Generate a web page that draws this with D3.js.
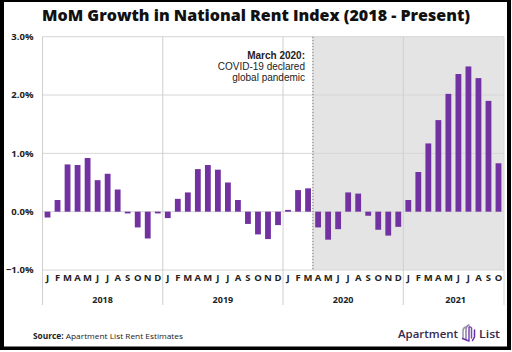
<!DOCTYPE html>
<html><head><meta charset="utf-8">
<script src="https://cdn.jsdelivr.net/npm/d3@7"></script>
<style>html,body{margin:0;padding:0;background:#fff}svg{display:block}</style>
</head><body>
<script>
const years = ["2018","2019","2020","2021"];
const monthLetters = ["J","F","M","A","M","J","J","A","S","O","N","D"];
const values2018 = [-0.10, 0.20, 0.81, 0.80, 0.92, 0.54, 0.65, 0.38, -0.03, -0.27, -0.46, -0.03];
const values2019 = [-0.11, 0.22, 0.33, 0.73, 0.80, 0.72, 0.50, 0.20, -0.21, -0.39, -0.47, -0.23];
const values2020 = [0.03, 0.37, 0.40, -0.27, -0.48, -0.30, 0.33, 0.31, -0.07, -0.31, -0.41, -0.26];
const values2021 = [0.20, 0.68, 1.17, 1.57, 2.02, 2.36, 2.49, 2.29, 1.90, 0.83];
const yTicks = [-1, 0, 1, 2, 3];
const title = "MoM Growth in National Rent Index (2018 - Present)";
const annotation = ["March 2020:", "COVID-19 declared", "global pandemic"];
const pandemicIndex = 27; // first month after March 2020

(function () {
const seriesByYear = [values2018, values2019, values2020, values2021];
const data = [];
seriesByYear.forEach((vals, yi) => vals.forEach((v, mi) => data.push({year: years[yi], m: mi, label: monthLetters[mi], v, i: data.length})));

const W = 512, H = 352;
const svg = d3.select("body").append("svg").attr("width", W).attr("height", H);
const font = "'Open Sans', sans-serif";

const pL = 42.5, pR = 503.5, pT = 36.7, pB = 270;
const x = d3.scaleBand().domain(data.map(d => d.i)).range([pL, pR]).paddingInner(0.42).paddingOuter(0.21);
const y = d3.scaleLinear().domain([-1, 3]).range([pB, pT]);

// shaded region
const xShade = x(pandemicIndex) - x.step() * x.paddingInner() / 2 - 0.2;
svg.append("rect").attr("x", xShade).attr("y", pT).attr("width", pR + 0.5 - xShade).attr("height", pB - pT).attr("fill", "#e4e4e4");

// gridlines
svg.append("g").selectAll("line").data(yTicks).join("line")
  .attr("x1", pL).attr("x2", pR + 0.5)
  .attr("y1", d => y(d)).attr("y2", d => y(d))
  .attr("stroke", "#d6d6d6").attr("stroke-width", 1);

// year separators
const yearStarts = years.map(yr => data.find(d => d.year === yr).i);
const sepX = i => pL + i * x.step();
svg.append("g").selectAll("line").data(yearStarts).join("line")
  .attr("x1", d => sepX(d)).attr("x2", d => sepX(d))
  .attr("y1", pT).attr("y2", 305)
  .attr("stroke", "#cfcfcf").attr("stroke-width", 1);
svg.append("line").attr("x1", pR + 0.5).attr("x2", pR + 0.5).attr("y1", pT).attr("y2", 305)
  .attr("stroke", "#d9d9d9").attr("stroke-width", 1);

// dotted line
svg.append("line").attr("x1", xShade).attr("x2", xShade).attr("y1", pT).attr("y2", pB)
  .attr("stroke", "#8a8a8a").attr("stroke-width", 1.2).attr("stroke-dasharray", "1.5,1.5");

// bars
svg.append("g").selectAll("rect").data(data).join("rect")
  .attr("x", d => x(d.i)).attr("width", x.bandwidth())
  .attr("y", d => y(Math.max(0, d.v))).attr("height", d => Math.abs(y(d.v) - y(0)))
  .attr("fill", "#7232a2");

// y labels
svg.append("g").selectAll("text").data(yTicks).join("text")
  .attr("x", 33.5).attr("y", d => y(d)).attr("dy", "0.35em").attr("text-anchor", "end")
  .attr("font-family", font).attr("font-weight", 700).attr("font-size", 9.5).attr("fill", "#222")
  .text(d => d3.format(".1f")(d) + "%");

// month labels
svg.append("g").selectAll("text").data(data).join("text")
  .attr("x", d => x(d.i) + x.bandwidth() / 2).attr("y", 280.5).attr("text-anchor", "middle")
  .attr("font-family", font).attr("font-weight", 700).attr("font-size", 9.5).attr("fill", "#222")
  .text(d => d.label);

// year labels
svg.append("g").selectAll("text").data(years).join("text")
  .attr("x", (d, k) => {
    const ds = data.filter(e => e.year === d);
    const a = sepX(ds[0].i), b = k === years.length - 1 ? pR + 0.5 : sepX(ds[ds.length - 1].i + 1);
    return (a + b) / 2 + (k === years.length - 1 ? 2 : 0);
  })
  .attr("y", 302.5).attr("text-anchor", "middle")
  .attr("font-family", font).attr("font-weight", 700).attr("font-size", 9).attr("fill", "#222")
  .text(d => d);

// title
svg.append("text").attr("x", 256).attr("y", 21).attr("text-anchor", "middle")
  .attr("font-family", font).attr("font-weight", 800).attr("font-size", 16).attr("fill", "#111")
  .attr("textLength", 428).attr("lengthAdjust", "spacingAndGlyphs")
  .text(title);

// annotation
svg.append("g").selectAll("text").data(annotation).join("text")
  .attr("x", 305).attr("y", (d, k) => 58.5 + k * 11)
  .attr("text-anchor", "end").attr("font-family", "'Liberation Sans', Arial, sans-serif")
  .attr("font-weight", (d, k) => k === 0 ? 700 : 400).attr("font-size", 10).attr("fill", "#222")
  .text(d => d);

// source
const src = svg.append("text").attr("x", 33).attr("y", 338.5).attr("font-family", font).attr("font-size", 8).attr("fill", "#222")
  .attr("textLength", 150).attr("lengthAdjust", "spacingAndGlyphs");
src.append("tspan").attr("font-weight", 700).text("Source:");
src.append("tspan").text(" Apartment List Rent Estimates");

// logo
svg.append("text").attr("x", 398).attr("y", 337.5).attr("font-family", font).attr("font-weight", 600)
  .attr("font-size", 11.5).attr("fill", "#35294f").attr("textLength", 60).attr("lengthAdjust", "spacingAndGlyphs").text("Apartment");
svg.append("text").attr("x", 479).attr("y", 337.5).attr("font-family", font).attr("font-weight", 600)
  .attr("font-size", 11.5).attr("fill", "#35294f").attr("textLength", 21).attr("lengthAdjust", "spacingAndGlyphs").text("List");
const logo = svg.append("g").attr("fill", "none").attr("stroke-width", 1.5).attr("stroke-linecap", "round");
logo.append("path").attr("d", "M463,338 L463,331 Q463,328 465.5,327").attr("stroke", "#9a93a8");
logo.append("path").attr("d", "M466,339 L466,329 Q466.5,325.5 469,325").attr("stroke", "#8a7fa6");
logo.append("path").attr("d", "M469,340 L469,327.5 Q470,326 471.5,328 L471.5,338").attr("stroke", "#7a4bb0");
logo.append("path").attr("d", "M472.5,340.5 L474.5,337 L474.5,330").attr("stroke", "#6a2fa8");
logo.append("path").attr("d", "M462.5,338.5 L469,341").attr("stroke", "#6a2fa8");

// frame
svg.append("rect").attr("x", 0).attr("y", 0).attr("width", 4).attr("height", 350).attr("fill", "#000");
svg.append("rect").attr("x", 0).attr("y", 0).attr("width", 511).attr("height", 2).attr("fill", "#000");
svg.append("rect").attr("x", 507).attr("y", 0).attr("width", 4).attr("height", 350).attr("fill", "#000");
svg.append("rect").attr("x", 0).attr("y", 346.5).attr("width", 511).attr("height", 3.5).attr("fill", "#000");
})();
</script>
</body></html>
